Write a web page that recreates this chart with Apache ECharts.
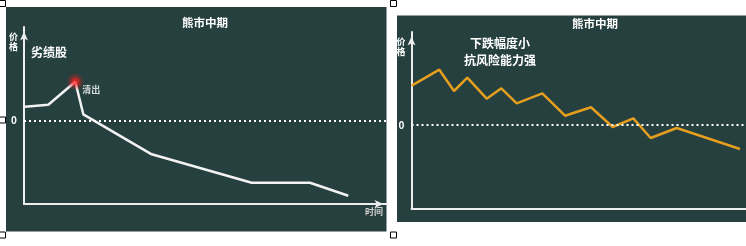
<!DOCTYPE html>
<html>
<head>
<meta charset="utf-8">
<script src="https://cdn.jsdelivr.net/npm/echarts@6/dist/echarts.min.js"></script>
<style>
html,body{margin:0;padding:0;background:#fff;}
#c{width:746px;height:246px;}
</style>
</head>
<body>
<div id="c"></div>
<script>
// ---- data (time units and price relative to 0 line) ----
const leftTime  = [0.1, 2.43, 5.13, 5.93, 12.77, 22.77, 28.6, 32.43];
const leftPrice = [1.4, 1.6, 3.9, 0.64, -3.36, -6.2, -6.2, -7.5];
const peakPoint = [5.13, 3.9];

const rightTime  = [0.02, 2.78, 4.25, 5.58, 7.52, 8.98, 10.52, 13.08, 15.35, 17.95, 20.12, 22.18, 23.92, 26.52, 32.85];
const rightPrice = [3.93, 5.53, 3.4, 4.73, 2.63, 3.67, 2.17, 3.17, 0.93, 1.77, -0.2, 0.67, -1.3, -0.3, -2.4];

const yTickLabels = [0];
const titleText = '熊市中期';
const leftNote = '劣绩股';
const rightNote = '下跌幅度小\n抗风险能力强';
const peakLabel = '清出';
const yName = '价\n格';
const xName = '时间';

const FONT = '"Noto Sans CJK SC", "Noto Sans", sans-serif';
const BG = '#26403f';
const AX = '#eeeeee';

function pairs(xs, ys){ return xs.map((x,i)=>[x, ys[i]]); }

function yAxisCfg(grid, min, max){
  return {
    type:'value', gridIndex:grid, min:min, max:max,
    splitLine:{show:false}, axisTick:{show:false},
    axisLine:{show:true, onZero:false, symbol:['none','arrow'], symbolSize:[6,9], symbolOffset:[0,-4.5],
      lineStyle:{color:AX, width:2}},
    axisLabel:{customValues:yTickLabels, color:'#fff', fontSize:10, fontWeight:'bold', fontFamily:FONT, margin:7},
    name:yName, nameLocation:'end', nameGap:-5,
    nameTextStyle:{color:'#fff', fontSize:9, fontWeight:'bold', fontFamily:FONT, align:'right', verticalAlign:'top', lineHeight:10, padding:[0,6,0,0]}
  };
}

const zeroLine = {
  silent:true, symbol:'none', label:{show:false},
  lineStyle:{color:'#fff', type:[2,3], width:2},
  data:[{yAxis:0}]
};

const handles = [[-1,0.5],[-1,117],[-1,232],[390,0.5],[390,232]].map(p=>({
  type:'rect', z:101, shape:{x:p[0]+0.5, y:p[1], width:6, height:6},
  style:{fill:'#fff', stroke:'#000', lineWidth:1}
}));

const glow = {
  type:'radial', x:0.5, y:0.5, r:0.5,
  colorStops:[
    {offset:0, color:'rgba(255,40,40,1)'},
    {offset:0.3, color:'rgba(255,30,30,0.9)'},
    {offset:0.6, color:'rgba(220,30,30,0.45)'},
    {offset:1, color:'rgba(200,30,30,0)'}
  ]
};

const option = {
  backgroundColor:'#fff',
  animation:false,
  grid:[
    {left:24, right:358, top:27, bottom:42},
    {left:411.5, right:0, top:32, bottom:37}
  ],
  xAxis:[
    {type:'value', gridIndex:0, min:0, max:36.4,
     splitLine:{show:false}, axisTick:{show:false}, axisLabel:{show:false},
     axisLine:{show:true, onZero:false, symbol:['none','arrow'], symbolSize:[6,9], symbolOffset:[0,-4.5], lineStyle:{color:AX, width:2}},
     name:xName, nameLocation:'end', nameGap:-5,
     nameTextStyle:{color:'#cfcfcf', fontSize:9, fontWeight:'bold', fontFamily:FONT, align:'right', verticalAlign:'top', padding:[3,0,0,0]}},
    {type:'value', gridIndex:1, min:0, max:33.45,
     splitLine:{show:false}, axisTick:{show:false}, axisLabel:{show:false},
     axisLine:{show:true, onZero:false, lineStyle:{color:AX, width:2}}}
  ],
  yAxis:[ yAxisCfg(0, -8.33, 9.37), yAxisCfg(1, -8.4, 9.3) ],
  series:[
    {type:'line', xAxisIndex:0, yAxisIndex:0, data:pairs(leftTime,leftPrice),
     symbol:'none', lineStyle:{color:'#f2f2f2', width:2.5}, markLine:zeroLine, z:3},
    {type:'scatter', xAxisIndex:0, yAxisIndex:0, data:[peakPoint], symbolSize:18,
     itemStyle:{color:glow},
     label:{show:true, formatter:peakLabel, position:'right', distance:-2, offset:[0,8],
       color:'#fff', fontSize:9, fontWeight:'bold', fontFamily:FONT}, z:4},
    {type:'line', xAxisIndex:1, yAxisIndex:1, data:pairs(rightTime,rightPrice),
     symbol:'none', lineStyle:{color:'#e59e1e', width:2.5}, markLine:zeroLine, z:3}
  ],
  graphic:[
    {type:'rect', z:-10, shape:{x:6, y:7, width:380.5, height:224.5}, style:{fill:BG}},
    {type:'rect', z:-10, shape:{x:397, y:15.5, width:349, height:206.5}, style:{fill:BG}},
    {type:'rect', z:100, shape:{x:388.5, y:0, width:8.5, height:246}, style:{fill:'#fff'}},
    {type:'text', z:50, style:{text:titleText, x:205, y:23, textAlign:'center', textVerticalAlign:'middle',
      fill:'#fff', font:'bold 11.5px '+FONT}},
    {type:'text', z:50, style:{text:titleText, x:595, y:24, textAlign:'center', textVerticalAlign:'middle',
      fill:'#fff', font:'bold 11.5px '+FONT}},
    {type:'text', z:50, style:{text:leftNote, x:49, y:52, textAlign:'center', textVerticalAlign:'middle',
      fill:'#fff', font:'bold 12px '+FONT}},
    {type:'text', z:50, style:{text:rightNote, x:500, y:52, textAlign:'center', textVerticalAlign:'middle',
      fill:'#fff', font:'bold 12px '+FONT, lineHeight:17}}
  ].concat(handles)
};

const chart = echarts.init(document.getElementById('c'), null, {renderer:'canvas'});
chart.setOption(option);
</script>
</body>
</html>
